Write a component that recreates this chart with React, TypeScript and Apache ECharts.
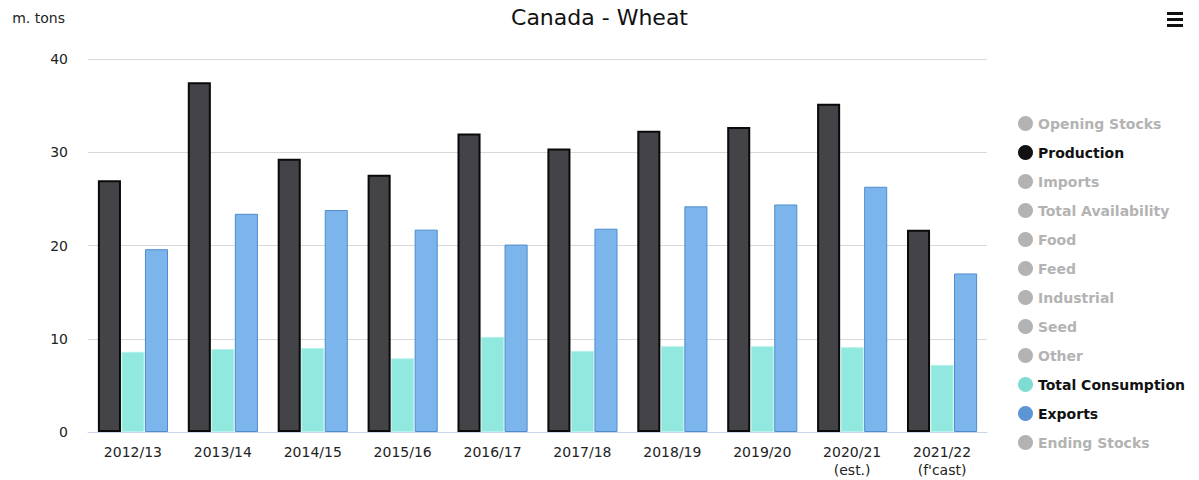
import React, { useEffect, useRef } from "react";
import * as echarts from "echarts";

const categories = [
  "2012/13", "2013/14", "2014/15", "2015/16", "2016/17",
  "2017/18", "2018/19", "2019/20", "2020/21\n(est.)", "2021/22\n(f'cast)",
];
const production = [27.0, 37.5, 29.3, 27.6, 32.0, 30.4, 32.3, 32.7, 35.2, 21.7];
const totalConsumption = [8.6, 8.9, 9.0, 7.9, 10.2, 8.7, 9.2, 9.2, 9.1, 7.2];
const exportsData = [19.6, 23.4, 23.8, 21.7, 20.1, 21.8, 24.2, 24.4, 26.3, 17.0];
const yTicks = [0, 10, 20, 30, 40];
const legendNames = [
  "Opening Stocks", "Production", "Imports", "Total Availability", "Food",
  "Feed", "Industrial", "Seed", "Other", "Total Consumption", "Exports", "Ending Stocks",
];

const FONT = "'DejaVu Sans', 'Open Sans', sans-serif";

export default function App() {
  const ref = useRef<HTMLDivElement>(null);
  useEffect(() => {
    const chart = echarts.init(ref.current!, null, { renderer: "svg" });
    const shown: Record<string, any> = {
      Production: { data: production, color: "#434348", border: "#0a0a0a", bw: 2, legend: "#111111" },
      "Total Consumption": { data: totalConsumption, color: "#90e8de", border: "#b5f2ea", bw: 1, legend: "#7fdcd2" },
      Exports: { data: exportsData, color: "#7cb5ec", border: "#4f8ccb", bw: 1, legend: "#5b95d6" },
    };
    const selected: Record<string, boolean> = {};
    legendNames.forEach((n) => (selected[n] = !!shown[n]));
    const series = legendNames.map((n) => {
      const s = shown[n];
      return {
        name: n,
        type: "bar",
        data: s ? s.data : [],
        barGap: "2%",
        barCategoryGap: "22%",
        itemStyle: s
          ? { color: s.color, borderColor: s.border, borderWidth: s.bw }
          : { color: "#bbbbbb" },
      };
    });
    const legendData = legendNames.map((n) =>
      shown[n] ? { name: n, itemStyle: { color: shown[n].legend, borderWidth: 0 } } : { name: n }
    );
    chart.setOption({
      animation: false,
      textStyle: { fontFamily: FONT },
      title: {
        text: "Canada - Wheat",
        left: "center",
        top: 1,
        textStyle: { fontFamily: FONT, fontSize: 22, fontWeight: "normal", color: "#111" },
      },
      legend: {
        orient: "vertical",
        left: 1013,
        top: 111,
        itemGap: 14,
        itemWidth: 15,
        itemHeight: 15,
        icon: "circle",
        selected,
        inactiveColor: "#b3b3b3",
        itemStyle: { borderWidth: 0 },
        textStyle: { fontFamily: FONT, fontSize: 14, fontWeight: "bold", color: "#111" },
        data: legendData,
      },
      grid: { left: 88, right: 212, top: 59, bottom: 48 },
      xAxis: {
        type: "category",
        data: categories,
        axisLine: { lineStyle: { color: "#ccd6eb" } },
        axisTick: { show: false },
        axisLabel: { color: "#222", fontSize: 14, fontFamily: FONT, margin: 11, lineHeight: 18 },
      },
      yAxis: {
        type: "value",
        min: 0,
        max: yTicks[yTicks.length - 1],
        interval: 10,
        name: "m. tons",
        nameLocation: "end",
        nameGap: 34,
        nameTextStyle: { color: "#222", fontSize: 14, fontFamily: FONT, align: "right", padding: [0, 23, 0, 0] },
        axisLabel: { color: "#222", fontSize: 14, fontFamily: FONT, margin: 20 },
        splitLine: { lineStyle: { color: "#d8d8d8" } },
        axisLine: { show: false },
        axisTick: { show: false },
      },
      graphic: [
        { type: "rect", shape: { x: 1167, y: 12, width: 16, height: 3 }, style: { fill: "#111" } },
        { type: "rect", shape: { x: 1167, y: 18, width: 16, height: 3 }, style: { fill: "#111" } },
        { type: "rect", shape: { x: 1167, y: 24, width: 16, height: 3 }, style: { fill: "#111" } },
      ],
      series,
    });
    return () => chart.dispose();
  }, []);
  return <div ref={ref} style={{ width: 1199, height: 480, position: "absolute", left: 0, top: 0 }} />;
}
